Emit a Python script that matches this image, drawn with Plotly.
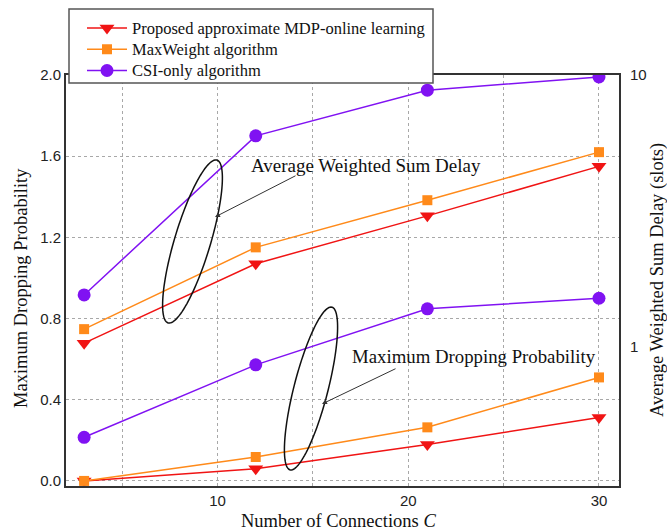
import numpy as np
import plotly.graph_objects as go

# ---- data ----
connections = [3, 12, 21, 30]
# Average weighted sum delay (slots), right log axis
delay_proposed = [1.03, 2.02, 3.03, 4.61]
delay_maxweight = [1.16, 2.32, 3.46, 5.20]
delay_csi = [1.55, 5.97, 8.79, 9.83]
# Maximum dropping probability, left axis
drop_proposed = [0.0, 0.06, 0.179, 0.313]
drop_maxweight = [0.0, 0.118, 0.264, 0.51]
drop_csi = [0.215, 0.572, 0.848, 0.90]

x_tick_vals = [5, 10, 15, 20, 25, 30]
x_tick_text = ["", "10", "", "20", "", "30"]
y_tick_vals = [0.0, 0.4, 0.8, 1.2, 1.6, 2.0]
y_tick_text = ["0.0", "0.4", "0.8", "1.2", "1.6", "2.0"]
y2_tick_vals = [1, 10]
y2_tick_text = ["1", "10"]

names = ["Proposed approximate MDP-online learning", "MaxWeight algorithm", "CSI-only algorithm"]
colors = ["#F01414", "#FF8A1A", "#8012F2"]
symbols = ["triangle-down", "square", "circle"]
msizes = [13, 10, 13]

W, H = 667, 531
ML, MR, MT, MB = 66, 48, 75, 45
PW, PH = W - ML - MR, H - MT - MB

SERIF = "Liberation Serif, Times New Roman, serif"
SANS = "Liberation Sans, Arial, sans-serif"


def px2paper(px, py):
    return (px - ML) / PW, (H - MB - py) / PH


def ellipse_path(cx, cy, a, b, tilt_deg, n=120):
    th = np.radians(tilt_deg)
    t = np.linspace(0, 2 * np.pi, n)
    u = a * np.cos(t)
    v = b * np.sin(t)
    px = cx + u * np.sin(th) + v * np.cos(th)
    py = cy - u * np.cos(th) + v * np.sin(th)
    pts = [px2paper(x, y) for x, y in zip(px, py)]
    return "M " + " L ".join(f"{x:.5f},{y:.5f}" for x, y in pts) + " Z"


fig = go.Figure()

delays = [delay_proposed, delay_maxweight, delay_csi]
drops = [drop_proposed, drop_maxweight, drop_csi]

for i in range(3):
    fig.add_trace(go.Scatter(
        x=connections, y=delays[i], yaxis="y2",
        name=f'<span style="font-size:16.5px">{names[i]}</span>',
        mode="lines+markers",
        line=dict(color=colors[i], width=1.5),
        marker=dict(symbol=symbols[i], size=msizes[i], color=colors[i]),
        showlegend=True,
    ))
for i in range(3):
    fig.add_trace(go.Scatter(
        x=connections, y=drops[i], yaxis="y", name=names[i],
        mode="lines+markers",
        line=dict(color=colors[i], width=1.5),
        marker=dict(symbol=symbols[i], size=msizes[i], color=colors[i]),
        showlegend=False,
    ))

frame = "#333333"
grid = "#a8a8a8"

bx0, by0 = px2paper(69, 83)
bx1, by1 = px2paper(433, 9)
lx, ly = px2paper(82, 12.5)

fig.update_layout(
    width=W, height=H,
    margin=dict(l=ML, r=MR, t=MT, b=MB),
    paper_bgcolor="white", plot_bgcolor="white",
    font=dict(family=SANS, size=15, color="#222"),
    xaxis=dict(
        range=[2.05, 31.05], tickvals=x_tick_vals, ticktext=x_tick_text,
        showgrid=True, gridcolor=grid, griddash="dot", gridwidth=1,
        showline=True, linecolor=frame, linewidth=2, mirror=True,
        zeroline=False, ticks="", tickfont=dict(family=SANS, size=15, color="#222"),
    ),
    yaxis=dict(
        range=[-0.025, 2.0], tickvals=y_tick_vals, ticktext=y_tick_text,
        showgrid=True, gridcolor=grid, griddash="dot", gridwidth=1,
        showline=True, linecolor=frame, linewidth=2,
        zeroline=False, ticks="", tickfont=dict(family=SANS, size=15, color="#222"),
    ),
    yaxis2=dict(
        type="log", range=[-0.513, 1.0], overlaying="y", side="right",
        tickvals=y2_tick_vals, ticktext=y2_tick_text,
        showgrid=False, showline=True, linecolor=frame, linewidth=2,
        zeroline=False, ticks="", ticklabelstandoff=6,
        tickfont=dict(family=SANS, size=15, color="#222"),
    ),
    legend=dict(
        x=lx, y=ly, xanchor="left", yanchor="top",
        bgcolor="rgba(0,0,0,0)", borderwidth=0,
        font=dict(family=SERIF, size=14, color="#111"),
        tracegroupgap=0, itemwidth=40,
    ),
    shapes=[
        dict(type="rect", xref="paper", yref="paper", x0=bx0, y0=by0, x1=bx1, y1=by1,
             fillcolor="white", line=dict(color="#555", width=1.5), layer="above"),
        dict(type="path", xref="paper", yref="paper",
             path=ellipse_path(192.5, 241.5, 85, 18, 16.7),
             line=dict(color="#111", width=1.5)),
        dict(type="path", xref="paper", yref="paper",
             path=ellipse_path(311, 388.5, 84, 17, 14.4),
             line=dict(color="#111", width=1.5)),
    ],
)

ann = []
hx, hy = px2paper(215, 217)
ann.append(dict(xref="paper", yref="paper", x=hx, y=hy, ax=82, ay=-42, text="",
                showarrow=True, arrowhead=2, arrowsize=1, arrowwidth=1, arrowcolor="#333"))
hx, hy = px2paper(322, 404)
ann.append(dict(xref="paper", yref="paper", x=hx, y=hy, ax=75, ay=-36, text="",
                showarrow=True, arrowhead=2, arrowsize=1, arrowwidth=1, arrowcolor="#333"))
tx, ty = px2paper(249, 165)
ann.append(dict(xref="paper", yref="paper", x=tx, y=ty, xanchor="left", yanchor="middle",
                text="Average Weighted Sum Delay", showarrow=False,
                font=dict(family=SERIF, size=19, color="#111")))
tx, ty = px2paper(350, 356)
ann.append(dict(xref="paper", yref="paper", x=tx, y=ty, xanchor="left", yanchor="middle",
                text="Maximum Dropping Probability", showarrow=False,
                font=dict(family=SERIF, size=18.8, color="#111")))
# axis titles
tx, ty = px2paper(21, 288)
ann.append(dict(xref="paper", yref="paper", x=tx, y=ty, xanchor="center", yanchor="middle",
                text="Maximum Dropping Probability", textangle=-90, showarrow=False,
                font=dict(family=SERIF, size=18.5, color="#111")))
tx, ty = px2paper(657, 280)
ann.append(dict(xref="paper", yref="paper", x=tx, y=ty, xanchor="center", yanchor="middle",
                text="Average Weighted Sum Delay (slots)", textangle=-90, showarrow=False,
                font=dict(family=SERIF, size=18.5, color="#111")))
tx, ty = px2paper(338, 521)
ann.append(dict(xref="paper", yref="paper", x=tx, y=ty, xanchor="center", yanchor="middle",
                text="Number of Connections <i>C</i>", showarrow=False,
                font=dict(family=SERIF, size=18.5, color="#111")))
fig.update_layout(annotations=ann)

fig.write_html("out.html")
